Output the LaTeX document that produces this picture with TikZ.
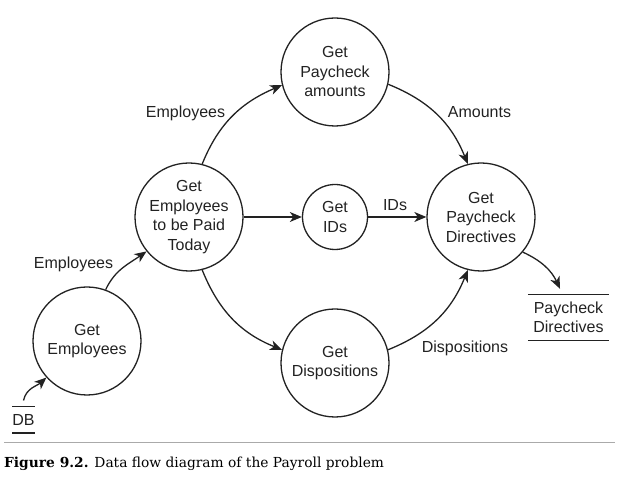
\documentclass[tikz,border=0pt]{standalone}
\usepackage{fontspec}
\setmainfont{Liberation Sans}
\newfontfamily\capfont{DejaVu Serif}
\usetikzlibrary{arrows.meta,calc}
\definecolor{ink}{HTML}{222222}
\definecolor{rule}{HTML}{AAAAAA}
\begin{document}
\begin{tikzpicture}[x=1pt,y=1pt,
  every node/.style={text=ink},
  proc/.style={circle,draw=ink,line width=1.3pt,align=center,inner sep=0pt,font=\fontsize{16}{19.5}\selectfont},
  bigproc/.style={proc,minimum size=108pt},
  smallproc/.style={proc,minimum size=65pt},
  flow/.style={draw=ink,line width=1.3pt,-{Stealth[length=12pt,width=10pt,inset=3.5pt]}},
  lbl/.style={anchor=base,inner sep=0pt,font=\fontsize{16}{19.5}\selectfont},
  storenode/.style={align=center,inner sep=0pt,font=\fontsize{16}{19.5}\selectfont},
  storeline/.style={draw=ink,line width=1.3pt}
]
\useasboundingbox (0,0) rectangle (631,481);

\node[bigproc] (amounts) at (335,409) {Get\\Paycheck\\amounts};
\node[bigproc] (gept) at (189,264) {Get\\Employees\\to be Paid\\Today};
\node[smallproc] (ids) at (335,264) {Get\\IDs};
\node[bigproc] (dir) at (481,264) {Get\\Paycheck\\Directives};
\node[bigproc] (disp) at (335,118) {Get\\Dispositions};
\node[bigproc] (gemp) at (87,140) {Get\\Employees};

\node[storenode,minimum width=81pt,minimum height=45pt] (pd) at (568.5,163.5) {Paycheck\\Directives};
\draw[storeline] (pd.north west) -- (pd.north east) (pd.south west) -- (pd.south east);
\node[storenode,minimum width=21.6pt,minimum height=26pt] (db) at (23.5,61.3) {DB};
\draw[storeline] (db.north west) -- (db.north east) (db.south west) -- (db.south east);

\draw[flow] (gept.76) to[out=68,in=203] (amounts.194);
\draw[flow] (amounts.347) to[out=-22,in=112] (dir.104);
\draw[flow] (gept.284) to[out=292,in=158] (disp.166);
\draw[flow] (disp.14) to[out=22,in=248] (dir.256);
\draw[flow] (gept) -- (ids);
\draw[flow] (ids) -- (dir);
\draw[flow] (gemp.70) to[out=65,in=215] (gept.219);
\coordinate (dbtop) at ($(db.north)+(0,6)$);
\draw[flow] (dbtop) to[out=78,in=222] (gemp.222);
\coordinate (pdtop) at ($(pd.north)+(-8.5,6)$);
\draw[flow] (dir.320) to[out=-25,in=115] (pdtop);

\node[lbl] (lemp1) at (185.5,363) {Employees};
\node[lbl] (lamt) at (479.5,363) {Amounts};
\node[lbl] (lids) at (395,270.3) {IDs};
\node[lbl] (ldisp) at (465,128.3) {Dispositions};
\node[lbl] (lemp2) at (73.5,212.7) {Employees};

\draw[rule,line width=0.9pt] (4,38.3) -- (615,38.3);
\node[anchor=base west,inner sep=0pt,text=black,font=\capfont\fontsize{13.8}{16}\selectfont] (cap) at (4,13) {\textbf{Figure 9.2.} Data flow diagram of the Payroll problem};
\end{tikzpicture}
\end{document}
